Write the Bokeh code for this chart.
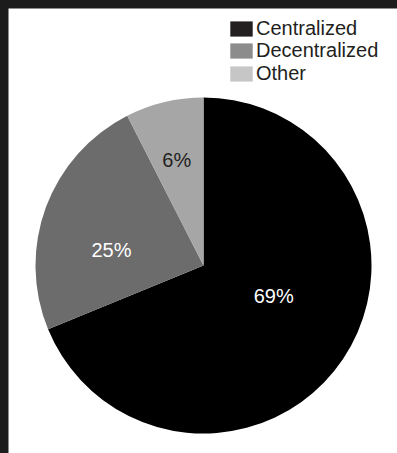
import math
from bokeh.plotting import figure
from bokeh.models import ColumnDataSource, Range1d, Legend, LegendItem
from bokeh.core.properties import value
from bokeh.embed import file_html
from bokeh.resources import INLINE
from bokeh.core.templates import get_env

# ---- data ----
categories = ["Centralized", "Decentralized", "Other"]
shares = [68.8, 23.7, 7.5]          # slice sizes as drawn (percent)
pct_labels = ["69%", "25%", "6%"]    # printed labels

# ---- styles ----
FONT = "Liberation Sans"
pie_colors = ["#000000", "#6c6c6c", "#a6a6a6"]
legend_colors = ["#231f20", "#8c8c8c", "#c6c6c6"]
label_colors = ["#ffffff", "#ffffff", "#231f20"]
label_r = [0.455, 0.555, 0.65]
label_turn = [10.6, 11.0, 0.7]      # degrees, counter-clockwise shift from slice middle

W, H = 389, 445
cx, cy, R = 195, 188, 168

total = sum(shares)
starts, ends, lx, ly = [], [], [], []
cum = 0.0
for s, rf, dt in zip(shares, label_r, label_turn):
    a0 = math.pi / 2 - 2 * math.pi * cum / total
    cum += s
    a1 = math.pi / 2 - 2 * math.pi * cum / total
    starts.append(a0)
    ends.append(a1)
    mid = (a0 + a1) / 2 + math.radians(dt)
    lx.append(cx + rf * R * math.cos(mid))
    ly.append(cy + rf * R * math.sin(mid))

src = ColumnDataSource(dict(cat=categories, start=starts, end=ends, color=pie_colors,
                            lx=lx, ly=ly, lab=pct_labels, lcol=label_colors))

p = figure(width=W, height=H, output_backend="svg", toolbar_location=None,
           x_range=Range1d(0, W), y_range=Range1d(0, H), min_border=0,
           background_fill_color="white", border_fill_color="white")
p.axis.visible = False
p.grid.visible = False
p.outline_line_color = None

p.wedge(x=cx, y=cy, radius=R, start_angle="start", end_angle="end",
        direction="clock", fill_color="color", line_color=None, source=src)

p.text(x="lx", y="ly", text="lab", text_color="lcol", source=src,
       text_font=value(FONT), text_font_size="20px",
       text_align="center", text_baseline="middle")

# legend entries (swatch colours differ from the slices in the original);
# one single-row legend per entry so the rows can sit closer together
row_pitch = 22.6
first_y = 413.2
for i, (cat, col) in enumerate(zip(categories, legend_colors)):
    r = p.quad(left=[float("nan")], right=[float("nan")], bottom=[float("nan")], top=[float("nan")],
               fill_color=col, line_color=None)
    lg = Legend(items=[LegendItem(label=cat, renderers=[r])],
                location=(219, first_y - i * row_pitch), orientation="vertical",
                glyph_width=28, glyph_height=19, label_height=19, label_standoff=1,
                spacing=0, padding=0, margin=0,
                label_text_font=FONT, label_text_font_size="20px",
                label_text_color="#231f20",
                border_line_color=None, background_fill_alpha=0)
    p.add_layout(lg, "center")

tpl = get_env().from_string("""{% extends "file.html" %}
{% block postamble %}<style>html,body{background:#1c1c1c !important;overflow:hidden !important;}
body{margin:0 !important;padding:8px 0 0 8px !important;height:auto !important;}</style>{% endblock %}""")

open("out.html", "w").write(file_html(p, INLINE, template=tpl))
